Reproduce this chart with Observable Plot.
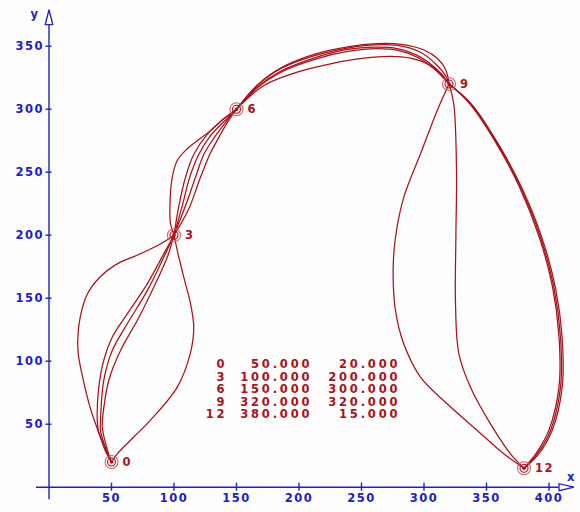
<!DOCTYPE html>
<html><head><meta charset="utf-8">
<script src="https://cdn.jsdelivr.net/npm/d3@7"></script>
<script src="https://cdn.jsdelivr.net/npm/@observablehq/plot@0.6"></script>
<style>
html,body{margin:0;padding:0;background:#fdfdfd;}
#chart svg{display:block;background:#fdfdfd;}
#chart svg text{letter-spacing:1.5px;}
#chart svg g.tbl text{letter-spacing:2.8px;}
</style></head><body><div id="chart"></div>
<script>
// knots (index, x, y)
const knotIndex = [0, 3, 6, 9, 12];
const knotX = [50, 100, 150, 320, 380];
const knotY = [20, 200, 300, 320, 15];
const xTicks = [50, 100, 150, 200, 250, 300, 350, 400];
const yTicks = [50, 100, 150, 200, 250, 300, 350];

// traced spline curves, one array of segments (0-3, 3-6, 6-9, 9-12) per curve
const curve1 = [
  [[50,20],[45,29],[41,40],[33,63],[27,87],[23.5,105],[23,116],[25,135],[30.5,153],[41,167],[57,178.6],[68,183],[89,193],[100,200]],
  [[100,200],[103.9,223.3],[109.2,246],[115.8,264],[126.6,280],[138.6,291.4],[150,300]],
  [[150,300],[166.6,318.8],[185.2,332.1],[211.9,342.3],[238.6,348.5],[260,351.1],[278.6,350.6],[297.2,345.2],[310.6,334.7],[317.2,326.7],[320,320]],
  [[320,320],[337.2,304.3],[358.6,272.5],[377.2,238],[393.2,198.4],[403.9,158.7],[409.2,119],[409.2,79.4],[401.2,45],[390.6,26.5],[380,15]]
];
const curve2 = [
  [[50,20],[54.6,26.5],[68,40],[81,53],[102.6,79.4],[113,106],[115.8,127],[113.2,145.6],[107.8,166.7],[102.6,188],[100,200]],
  [[100,200],[97.2,209.3],[96.7,222],[98.6,246],[102.6,259.3],[110.6,268.6],[118.6,275],[129.2,283],[139.8,292.4],[150,300]],
  [[150,300],[166.6,317.5],[185.2,330],[211.9,340.5],[238.6,347.4],[260,349.2],[278.6,348.1],[297.2,341.3],[313.2,328.7],[320,320]],
  [[320,320],[338.5,303.5],[360,271.5],[378.5,237],[394.5,197.5],[405.2,158],[410.5,119],[410.5,79],[402.5,45],[391.5,26],[380,15]]
];
const curve3 = [
  [[50,20],[44,33],[39.5,45],[38.6,53],[39.8,79],[43.8,100.6],[50.6,119],[62.6,137.6],[78.6,161.4],[91.8,185.2],[100,200]],
  [[100,200],[106.6,223.3],[112.6,246],[119.8,264],[129.2,279],[139.4,289.6],[150,300]],
  [[150,300],[167,319.5],[186,333],[212,343.5],[239,349.5],[262,352],[282,351.5],[300,347],[311,340],[317.5,331],[320,320]],
  [[320,320],[310.6,299],[297.2,264.6],[283.8,230],[277.2,198.4],[275.3,172],[277.2,140.2],[283.8,113.8],[297.2,87.3],[318.5,66.2],[342.6,45],[363.8,26.5],[380,15]]
];
const curve4 = [
  [[50,20],[45,32],[41.2,45],[41.2,53],[43.8,84.7],[50.6,108.5],[62.6,129.7],[78.6,156],[91.8,182.5],[100,200]],
  [[100,200],[109.2,223.3],[117.2,246],[123.8,264],[132.4,277.8],[140.4,288.4],[150,300]],
  [[150,300],[168,318],[188,330.5],[214,340],[240,346],[262,348],[280,346.5],[295,341],[308,332],[320,320]],
  [[320,320],[323.8,304.3],[326,251.2],[325.5,198.4],[325.2,145.6],[327.9,105.9],[337.2,79.4],[353.2,50.3],[369.2,26.5],[380,15]]
];
const curve5 = [
  [[50,20],[46,32],[43,45],[42.6,50.3],[47.8,84.7],[57.2,108.5],[70.6,132.3],[83.8,158.7],[94.6,182.5],[100,200]],
  [[100,200],[111.8,220.8],[121.2,246],[128.6,264],[136,277.8],[142,288.4],[150,300]],
  [[150,300],[171.9,318.8],[198.6,329.4],[225.2,336],[251.8,340.5],[273.2,342],[289.2,340.5],[302.6,336],[313.2,328],[320,320]],
  [[320,320],[336,305],[357.5,273.5],[376,239],[392,199],[402.7,159.5],[408,119.5],[408,79.8],[400,45.5],[389.8,27],[380,15]]
];

const curves = [curve1, curve2, curve3, curve4, curve5];
const rows = [];
curves.forEach((c, ci) => c.forEach((seg, si) => seg.forEach(([x, y]) => rows.push({key: ci + "-" + si, x, y}))));
const knots = knotIndex.map((k, i) => ({k, x: knotX[i], y: knotY[i]}));

const BLUE = "#2020c4";
const RED = "#a8121a";
const FONT = "DejaVu Sans";
const FS = 11.5;

const arrowX = {draw(ctx) { ctx.moveTo(7.5, 0); ctx.lineTo(-7.5, -3.5); ctx.lineTo(-7.5, 3.5); ctx.closePath(); }};
const arrowY = {draw(ctx) { ctx.moveTo(0, -7.5); ctx.lineTo(-3.8, 7.5); ctx.lineTo(3.8, 7.5); ctx.closePath(); }};

const rowY = (d, i) => 97.4 - i * 9.93;
const tbl = {fill: RED, fontSize: FS, fontWeight: "bold", textAnchor: "end"};

const chart = Plot.plot({
  width: 580, height: 512,
  marginLeft: 36, marginRight: 6.5, marginTop: 14.2, marginBottom: 12.7,
  x: {domain: [-10, 420], axis: null},
  y: {domain: [-10, 375], axis: null},
  style: {background: "#fdfdfd", fontFamily: FONT},
  marks: [
    // axes
    Plot.ruleY([0], {x1: -10, x2: 408, stroke: BLUE, strokeWidth: 1.4}),
    Plot.ruleX([0], {y1: -10, y2: 367, stroke: BLUE, strokeWidth: 1.4}),
    Plot.ruleX(xTicks, {x: d => d, y1: -3.2, y2: 3.2, stroke: BLUE, strokeWidth: 1.4}),
    Plot.ruleY(yTicks, {y: d => d, x1: -2.4, x2: 2.4, stroke: BLUE, strokeWidth: 1.4}),
    Plot.dot([0], {x: 414, y: 0, symbol: arrowX, fill: "#fdfdfd", stroke: BLUE, strokeWidth: 1.3}),
    Plot.dot([0], {x: 0, y: 373, symbol: arrowY, fill: "#fdfdfd", stroke: BLUE, strokeWidth: 1.3}),
    Plot.text(xTicks, {x: d => d, y: 0, dy: 11, text: d => String(d), fill: BLUE, fontSize: FS, fontWeight: "bold", textAnchor: "middle"}),
    Plot.text(yTicks, {x: 0, y: d => d, dx: -5, text: d => String(d), fill: BLUE, fontSize: FS, fontWeight: "bold", textAnchor: "end"}),
    Plot.text(["x"], {x: 418, y: 0, dy: -10, text: d => d, fill: BLUE, fontSize: FS, fontWeight: "bold"}),
    Plot.text(["y"], {x: 0, y: 373, dx: -14, dy: -3, text: d => d, fill: BLUE, fontSize: FS, fontWeight: "bold"}),
    // curves
    Plot.line(rows, {x: "x", y: "y", z: "key", curve: "catmull-rom", stroke: RED, strokeWidth: 1.25}),
    // knot markers
    Plot.dot(knots, {x: "x", y: "y", r: 6.5, stroke: "#d06060", strokeWidth: 1.1}),
    Plot.dot(knots, {x: "x", y: "y", r: 4, stroke: RED, strokeWidth: 1.1}),
    Plot.dot(knots, {x: "x", y: "y", r: 1.8, fill: RED, stroke: "none"}),
    Plot.text(knots, {x: "x", y: "y", dx: 11, text: d => String(d.k), fill: RED, fontSize: FS, fontWeight: "bold", textAnchor: "start"}),
    // value table
    Plot.text(knots, {...tbl, x: 142.6, y: rowY, text: d => String(d.k)}),
    Plot.text(knots, {...tbl, x: 210.6, y: rowY, text: d => d.x.toFixed(3)}),
    Plot.text(knots, {...tbl, x: 281, y: rowY, text: d => d.y.toFixed(3)})
  ]
});
// the last three text groups form the value table
const textGroups = chart.querySelectorAll('g[aria-label="text"]');
Array.from(textGroups).slice(-3).forEach(g => g.classList.add("tbl"));
document.getElementById("chart").append(chart);
</script></body></html>
